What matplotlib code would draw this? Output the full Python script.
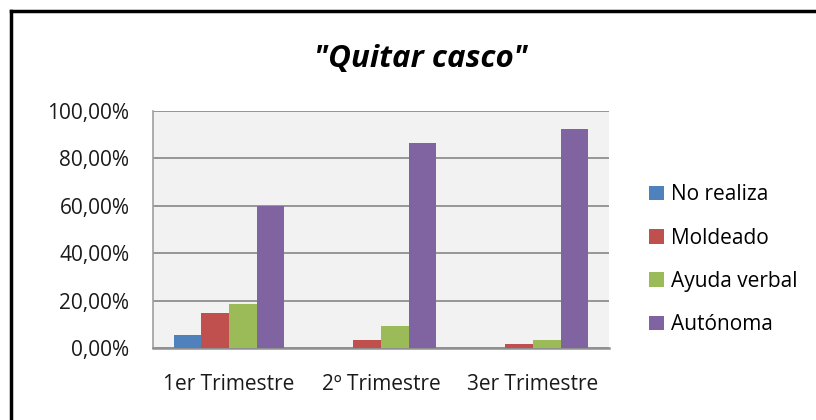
import matplotlib.pyplot as plt
import numpy as np
from matplotlib.lines import Line2D
from matplotlib.patches import Patch
from matplotlib.ticker import FuncFormatter

categories = ["1er Trimestre", "2º Trimestre", "3er Trimestre"]
series_names = ["No realiza", "Moldeado", "Ayuda verbal", "Autónoma"]
no_realiza = [5.4, 0.0, 0.0]
moldeado = [14.6, 3.5, 1.6]
ayuda_verbal = [18.4, 9.1, 3.5]
autonoma = [60.0, 86.6, 92.3]
colors = ["#4F81BD", "#C0504D", "#9BBB59", "#8064A2"]

plt.rcParams['font.family'] = ['Open Sans', 'DejaVu Sans']

W, H = 816, 420
fig = plt.figure(figsize=(W / 100, H / 100), dpi=100)
fig.patch.set_facecolor("white")

# plot area in pixel coords
left, right, top, bottom = 153, 609, 111, 348
ax = fig.add_axes([left / W, 1 - bottom / H, (right - left) / W, (bottom - top) / H])
ax.set_facecolor("#F2F2F2")

x = np.arange(len(categories))
bw = 1 / 5.5
all_series = [no_realiza, moldeado, ayuda_verbal, autonoma]
for i, (vals, name, c) in enumerate(zip(all_series, series_names, colors)):
    ax.bar(x + (i - 1.5) * bw, vals, width=bw, color=c, label=name, zorder=3)

ax.set_xlim(-0.5, 2.5)
ax.set_ylim(0, 100)
ax.set_yticks(np.arange(0, 101, 20))
ax.yaxis.set_major_formatter(FuncFormatter(lambda v, p: f"{v:.2f}%".replace(".", ",")))
ax.set_xticks(x)
ax.set_xticklabels(categories)
ax.grid(axis="y", color="#868686", linewidth=1.2, zorder=1)
ax.tick_params(axis="both", length=0, labelsize=15, colors="#1a1a1a")
ax.tick_params(axis="y", pad=17)
ax.tick_params(axis="x", pad=19)
for s in ["top", "right"]:
    ax.spines[s].set_visible(False)
ax.spines["left"].set_color("#A0A0A0")
ax.spines["left"].set_linewidth(1.2)
ax.spines["bottom"].set_color("#909090")
ax.spines["bottom"].set_linewidth(1.8)

fig.text(421 / W, 1 - 59 / H, '"Quitar casco"', ha="center", va="center",
         fontsize=22.5, fontstyle="italic", fontweight="bold", color="black")

handles = [Patch(facecolor=c) for c in colors]
fig.legend(handles, series_names, loc="upper left",
           bbox_to_anchor=(639 / W, 1 - 174 / H), frameon=False,
           fontsize=15, handlelength=0.7, handleheight=0.7,
           handletextpad=0.35, labelspacing=1.07, borderpad=0)

# outer chart frame (cut off at right and bottom)
fig.add_artist(Line2D([11 / W, 11 / W], [0, 1 - 11 / H], color="black", linewidth=2.5))
fig.add_artist(Line2D([11 / W, 1], [1 - 11 / H, 1 - 11 / H], color="black", linewidth=2.5))

fig.savefig("out.png", dpi=100)
